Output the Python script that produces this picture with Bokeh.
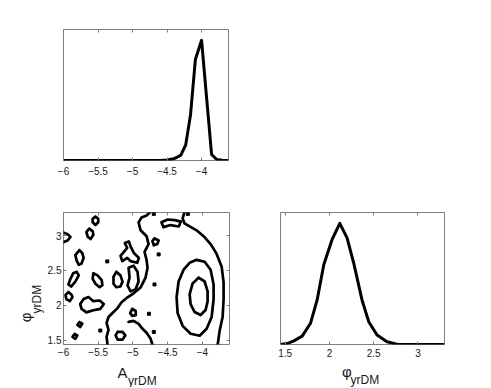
import math
from bokeh.plotting import figure
from bokeh.models import FixedTicker, LinearAxis, Range1d
from bokeh.core.properties import value
from bokeh.layouts import column, row
from bokeh.embed import file_html
from bokeh.resources import INLINE

# ---------------- data ----------------
a_ticks = [-6, -5.5, -5, -4.5, -4]
a_tick_labels = ["\u22126", "\u22125.5", "\u22125", "\u22124.5", "\u22124"]
phi_ticks = [1.5, 2, 2.5, 3]
phi_tick_labels = ["1.5", "2", "2.5", "3"]

a_lim = (-6.0, -3.61)
phi_lim_y = (1.44, 3.33)
phi_lim_x = (1.447, 3.30)
pdf_lim = (0.0, 1.09)

# axis label texts (main symbol + subscript)
a_label = ("A", "yrDM")
phi_label = ("\u03c6", "yrDM")

# marginal posterior of A_yrDM (normalised to peak 1)
a_grid = [-6.0, -5.5, -5.0, -4.6, -4.5, -4.42, -4.36, -4.30, -4.23, -4.16,
          -4.09, -4.00, -3.93, -3.855, -3.78, -3.70, -3.61]
a_pdf = [0.0, 0.0, 0.0, 0.001, 0.004, 0.012, 0.025, 0.045, 0.13, 0.38,
         0.84, 1.0, 0.54, 0.05, 0.008, 0.002, 0.001]

# marginal posterior of phi_yrDM (normalised to peak 1)
phi_grid = [1.447, 1.523, 1.598, 1.692, 1.786, 1.861, 1.936, 2.030, 2.117,
            2.199, 2.274, 2.368, 2.444, 2.538, 2.650, 2.763, 2.99, 3.30]
phi_pdf = [0.0, 0.008, 0.03, 0.069, 0.175, 0.368, 0.659, 0.867, 1.0,
           0.881, 0.673, 0.368, 0.188, 0.078, 0.022, 0.003, 0.0, 0.0]

# joint posterior contours (A_yrDM, phi_yrDM)
inner_x = [-4.055, -3.968, -3.925, -3.925, -3.954, -4.026, -4.112, -4.170, -4.184, -4.141]
inner_y = [2.398, 2.342, 2.201, 2.060, 1.933, 1.862, 1.905, 2.018, 2.159, 2.314]

mid_x = [-4.084, -3.968, -3.882, -3.839, -3.839, -3.867, -3.939, -4.040, -4.170,
         -4.285, -4.357, -4.372, -4.343, -4.271, -4.184]
mid_y = [2.652, 2.624, 2.511, 2.300, 2.088, 1.834, 1.665, 1.566, 1.594,
         1.707, 1.890, 2.116, 2.342, 2.511, 2.610]

outer_x = [-3.781, -3.752, -3.709, -3.695, -3.695, -3.723, -3.795, -3.882, -3.983,
           -4.084, -4.184, -4.257, -4.285, -4.257]
outer_y = [1.43, 1.637, 1.834, 2.088, 2.328, 2.554, 2.737, 2.878, 2.991,
           3.075, 3.132, 3.174, 3.245, 3.34]

wander_x = [-4.746, -4.804, -4.876, -4.919, -4.890, -4.804, -4.775, -4.833, -4.804,
            -4.790, -4.818, -4.890, -4.991, -5.078, -5.164, -5.222, -5.294, -5.352,
            -5.380, -5.352, -5.380, -5.366]
wander_y = [3.34, 3.287, 3.259, 3.188, 3.075, 2.991, 2.878, 2.765, 2.652,
            2.539, 2.398, 2.257, 2.173, 2.116, 2.046, 1.961, 1.891, 1.834,
            1.750, 1.651, 1.552, 1.43]

loop_x = [-5.063, -4.991, -4.934, -4.919, -4.963, -5.035, -5.078, -5.049]
loop_y = [2.539, 2.568, 2.483, 2.342, 2.229, 2.201, 2.286, 2.398]

vee_x = [-5.179, -5.082, -5.117, -5.059, -5.035, -4.987, -4.915, -4.938, -5.035, -5.082, -5.154]
vee_y = [2.709, 2.822, 2.892, 2.916, 2.846, 2.751, 2.680, 2.610, 2.634, 2.680, 2.634]

bottom_x = [-5.063, -4.991, -4.919, -4.862, -4.804, -4.746, -4.718]
bottom_y = [1.764, 1.778, 1.736, 1.665, 1.609, 1.524, 1.43]

edge_x = [-6.02, -5.94, -5.90, -5.94, -6.02]
edge_y = [3.05, 3.02, 2.98, 2.93, 2.90]

blob_a_x = [-5.54, -5.50, -5.50, -5.54, -5.58, -5.58]
blob_a_y = [3.27, 3.24, 3.19, 3.15, 3.19, 3.24]
blob_b_x = [-5.63, -5.58, -5.57, -5.61, -5.65, -5.67]
blob_b_y = [3.10, 3.06, 3.01, 2.95, 2.98, 3.05]
blob_d_x = [-5.77, -5.73, -5.71, -5.74, -5.78, -5.81, -5.83]
blob_d_y = [2.79, 2.75, 2.68, 2.60, 2.58, 2.64, 2.72]
blob_e_x = [-5.81, -5.78, -5.83, -5.89, -5.93, -5.90, -5.86]
blob_e_y = [2.48, 2.43, 2.34, 2.27, 2.30, 2.38, 2.46]
blob_f_x = [-5.93, -5.89, -5.87, -5.91, -5.96, -5.97]
blob_f_y = [2.19, 2.16, 2.12, 2.06, 2.09, 2.15]
blob_g_x = [-5.57, -5.51, -5.45, -5.44, -5.48, -5.54, -5.58]
blob_g_y = [2.46, 2.43, 2.36, 2.29, 2.26, 2.31, 2.38]
blob_h_x = [-5.71, -5.64, -5.57, -5.48, -5.42, -5.47, -5.57, -5.67, -5.74, -5.76]
blob_h_y = [2.09, 2.12, 2.06, 2.07, 2.02, 1.95, 1.93, 1.90, 1.95, 2.02]
blob_i_x = [-5.77, -5.73, -5.76, -5.80]
blob_i_y = [1.76, 1.74, 1.69, 1.72]
blob_j_x = [-5.84, -5.80, -5.83, -5.87]
blob_j_y = [1.59, 1.57, 1.52, 1.55]
blob_k_x = [-5.24, -5.18, -5.15, -5.18, -5.24, -5.28, -5.28]
blob_k_y = [2.48, 2.43, 2.34, 2.27, 2.26, 2.31, 2.41]
blob_l_x = [-5.22, -5.15, -5.11, -5.15, -5.22, -5.25]
blob_l_y = [1.62, 1.62, 1.57, 1.51, 1.51, 1.57]
blob_m_x = [-5.01, -4.96, -4.96, -5.01, -5.04]
blob_m_y = [1.95, 1.92, 1.86, 1.85, 1.89]
blob_n_x = [-4.69, -4.63, -4.65, -4.70, -4.72]
blob_n_y = [2.96, 2.93, 2.88, 2.86, 2.92]
blob_o_x = [-4.59, -4.50, -4.40, -4.31, -4.34, -4.46, -4.56]
blob_o_y = [3.19, 3.23, 3.22, 3.20, 3.13, 3.15, 3.12]

dot_x = [-5.37, -4.63, -4.69, -4.77, -4.70, -5.47, -4.21, -4.70]
dot_y = [2.63, 2.73, 2.30, 1.88, 1.62, 1.64, 3.31, 3.31]

closed_contours = [(inner_x, inner_y), (mid_x, mid_y), (loop_x, loop_y), (vee_x, vee_y),
                   (blob_a_x, blob_a_y), (blob_b_x, blob_b_y), (blob_d_x, blob_d_y),
                   (blob_e_x, blob_e_y), (blob_f_x, blob_f_y), (blob_g_x, blob_g_y),
                   (blob_h_x, blob_h_y), (blob_i_x, blob_i_y), (blob_j_x, blob_j_y),
                   (blob_k_x, blob_k_y), (blob_l_x, blob_l_y), (blob_m_x, blob_m_y),
                   (blob_n_x, blob_n_y), (blob_o_x, blob_o_y)]
open_contours = [(outer_x, outer_y), (wander_x, wander_y), (bottom_x, bottom_y), (edge_x, edge_y)]

# ---------------- styling ----------------
FONT = "Liberation Sans"
FRAME = "#7f7f7f"
TXT = "#1a1a1a"
LW = 3.0


def base_fig(xr, yr, fw, fh, bl, br, bt, bb, outline=True):
    p = figure(x_range=Range1d(*xr), y_range=Range1d(*yr),
               frame_width=fw, frame_height=fh,
               min_border_left=bl, min_border_right=br,
               min_border_top=bt, min_border_bottom=bb,
               output_backend="svg", toolbar_location=None)
    p.outline_line_color = FRAME if outline else None
    p.outline_line_width = 1
    p.outline_line_alpha = 1
    p.grid.visible = False
    p.background_fill_color = "white"
    p.border_fill_color = "white"
    return p


def style_axis(ax, ticks, labels, standoff=6):
    ax.ticker = FixedTicker(ticks=ticks)
    ax.major_label_overrides = {t: l for t, l in zip(ticks, labels)}
    ax.major_tick_in = 3
    ax.major_tick_out = 0
    ax.minor_tick_line_color = None
    ax.major_tick_line_color = FRAME
    ax.axis_line_color = None
    ax.major_label_text_font = FONT
    ax.major_label_text_font_size = "10px"
    ax.major_label_text_color = TXT
    ax.major_label_standoff = standoff


def mirror_axis(p, ticks, side):
    ax = LinearAxis(ticker=FixedTicker(ticks=ticks))
    ax.major_tick_in = 3
    ax.major_tick_out = 0
    ax.minor_tick_line_color = None
    ax.major_tick_line_color = FRAME
    ax.axis_line_color = None
    ax.major_label_text_font_size = "0px"
    ax.major_label_text_color = None
    ax.major_label_standoff = 0
    p.add_layout(ax, side)


def put_text(p, x, y, txt, size, angle=0.0):
    p.text(x=[x], y=[y], text=[txt], angle=angle, text_font=value(FONT),
           text_font_size=size, text_color=TXT, text_align="left",
           text_baseline="alphabetic")


# ---- top-left: marginal of A ----
p_a = base_fig(a_lim, pdf_lim, 165, 131, 63, 22, 29, 38)
p_a.line(a_grid, a_pdf, line_color="black", line_width=LW, line_join="round")
style_axis(p_a.xaxis[0], a_ticks, a_tick_labels)
p_a.yaxis.visible = False
mirror_axis(p_a, a_ticks, "above")

# ---- y-label strip, same vertical geometry as the joint panel ----
y_lab = base_fig((0, 44), phi_lim_y, 44, 132, 0, 0, 14, 16, outline=False)
y_lab.xaxis.visible = False
y_lab.yaxis.visible = False
put_text(y_lab, 25, 1.759, phi_label[0], "15px", angle=math.pi / 2)
put_text(y_lab, 36, 1.884, phi_label[1], "12px", angle=math.pi / 2)

# ---- bottom-left: joint contours ----
p_j = base_fig(a_lim, phi_lim_y, 166, 132, 19, 21, 14, 16)
xs = [list(cx) + [cx[0]] for cx, cy in closed_contours] + [list(cx) for cx, cy in open_contours]
ys = [list(cy) + [cy[0]] for cx, cy in closed_contours] + [list(cy) for cx, cy in open_contours]
p_j.multi_line(xs, ys, line_color="black", line_width=2.7, line_join="round", line_cap="round")
p_j.scatter(dot_x, dot_y, marker="square", size=3, color="black")
style_axis(p_j.xaxis[0], a_ticks, a_tick_labels, standoff=3)
style_axis(p_j.yaxis[0], phi_ticks, phi_tick_labels, standoff=2)
mirror_axis(p_j, a_ticks, "above")
mirror_axis(p_j, phi_ticks, "right")

# ---- bottom-right: marginal of phi ----
p_p = base_fig(phi_lim_x, pdf_lim, 164, 132, 30, 47, 14, 16)
p_p.line(phi_grid, phi_pdf, line_color="black", line_width=LW, line_join="round")
style_axis(p_p.xaxis[0], phi_ticks, phi_tick_labels, standoff=4)
p_p.yaxis.visible = False
mirror_axis(p_p, phi_ticks, "above")

# ---- x-label strip (pixel-like units, frame aligned with top panel frame) ----
x_lab = base_fig((63, 491), (0, 27), 428, 27, 63, 0, 0, 0, outline=False)
x_lab.xaxis.visible = False
x_lab.yaxis.visible = False
put_text(x_lab, 117, 15, a_label[0], "15px")
put_text(x_lab, 127.5, 7, a_label[1], "12px")
put_text(x_lab, 341.5, 16, phi_label[0], "15px")
put_text(x_lab, 350, 8, phi_label[1], "12px")

layout = column(p_a, row(y_lab, p_j, p_p), x_lab)
open("out.html", "w").write(file_html(layout, INLINE))
